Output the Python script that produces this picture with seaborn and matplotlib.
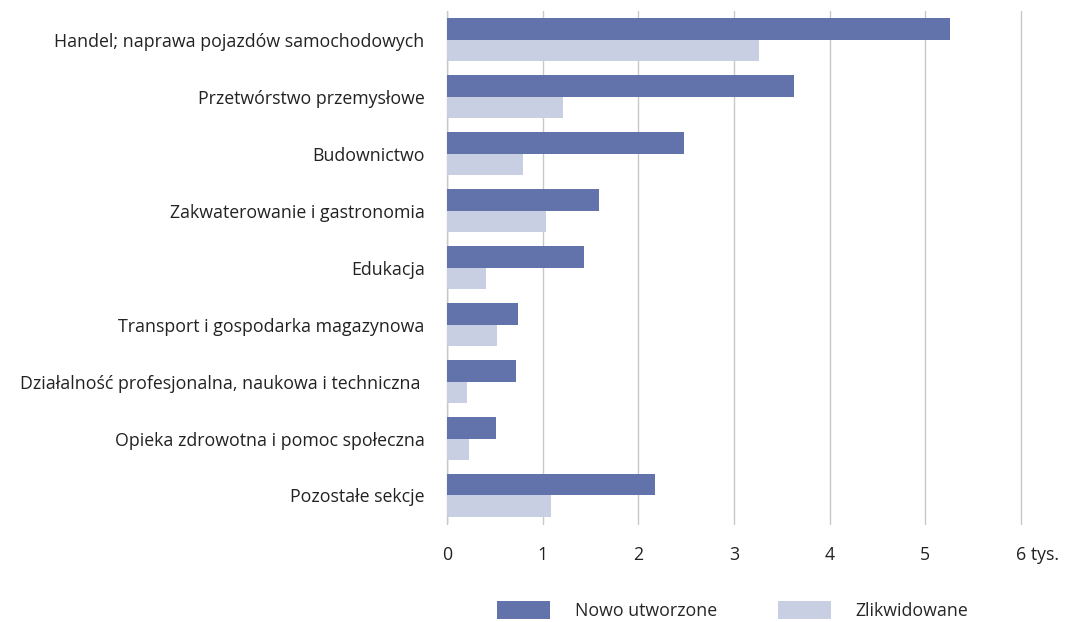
import matplotlib.pyplot as plt
import matplotlib.transforms as mtransforms
import seaborn as sns
import pandas as pd

categories = [
    "Handel; naprawa pojazdów samochodowych",
    "Przetwórstwo przemysłowe",
    "Budownictwo",
    "Zakwaterowanie i gastronomia",
    "Edukacja",
    "Transport i gospodarka magazynowa",
    "Działalność profesjonalna, naukowa i techniczna ",
    "Opieka zdrowotna i pomoc społeczna",
    "Pozostałe sekcje",
]
nowo = [5.26, 3.63, 2.48, 1.59, 1.43, 0.74, 0.72, 0.51, 2.17]
zlikw = [3.26, 1.21, 0.80, 1.04, 0.41, 0.52, 0.21, 0.23, 1.09]
series = ["Nowo utworzone", "Zlikwidowane"]
xticks = [0, 1, 2, 3, 4, 5, 6]
xticklabels = ["0", "1", "2", "3", "4", "5", "6 tys."]

df = pd.DataFrame({
    "sekcja": categories * 2,
    "wartosc": nowo + zlikw,
    "seria": [series[0]] * len(categories) + [series[1]] * len(categories),
})

sns.set_style("white")
plt.rcParams["font.family"] = ["Open Sans", "DejaVu Sans"]
plt.rcParams["font.size"] = 12.8

fig = plt.figure(figsize=(10.68, 6.22), dpi=100)
ax = fig.add_axes([0.4185, 0.1576, 0.9560 - 0.4185, 0.982 - 0.1576])

sns.barplot(data=df, x="wartosc", y="sekcja", hue="seria", orient="h",
            palette=["#6272aa", "#c9cfe3"], width=0.76, saturation=1,
            linewidth=0, ax=ax, legend=True)

ax.set_xlim(0, 6)
ax.set_xticks(xticks)
ax.set_xticklabels(xticklabels, color="#222222")
ax.set_xlabel("")
ax.set_ylabel("")
ax.tick_params(axis="x", length=0, pad=16)
ax.tick_params(axis="y", length=0, pad=16, labelcolor="#222222")
for s in ax.spines.values():
    s.set_visible(False)
ax.grid(axis="x", color="#c8c8c8", linewidth=1)
for gl in ax.get_xgridlines():
    gl.set_clip_on(False)
ax.set_axisbelow(True)
ax.axvline(0, color="#b0b0b0", linewidth=1, zorder=0)

# "6 tys." - keep the digit on the tick
lab = ax.get_xticklabels()[-1]
lab.set_horizontalalignment("left")
lab.set_transform(lab.get_transform() + mtransforms.ScaledTranslation(-5 / 100, 0, fig.dpi_scale_trans))

handles, labels = ax.get_legend_handles_labels()
ax.get_legend().remove()
fig.legend(handles, labels, loc="center", bbox_to_anchor=(0.686, 0.018), ncol=2,
           frameon=False, handlelength=3.0, handleheight=1.2, handletextpad=1.4,
           columnspacing=3.4)

fig.savefig("out.png", dpi=100)
